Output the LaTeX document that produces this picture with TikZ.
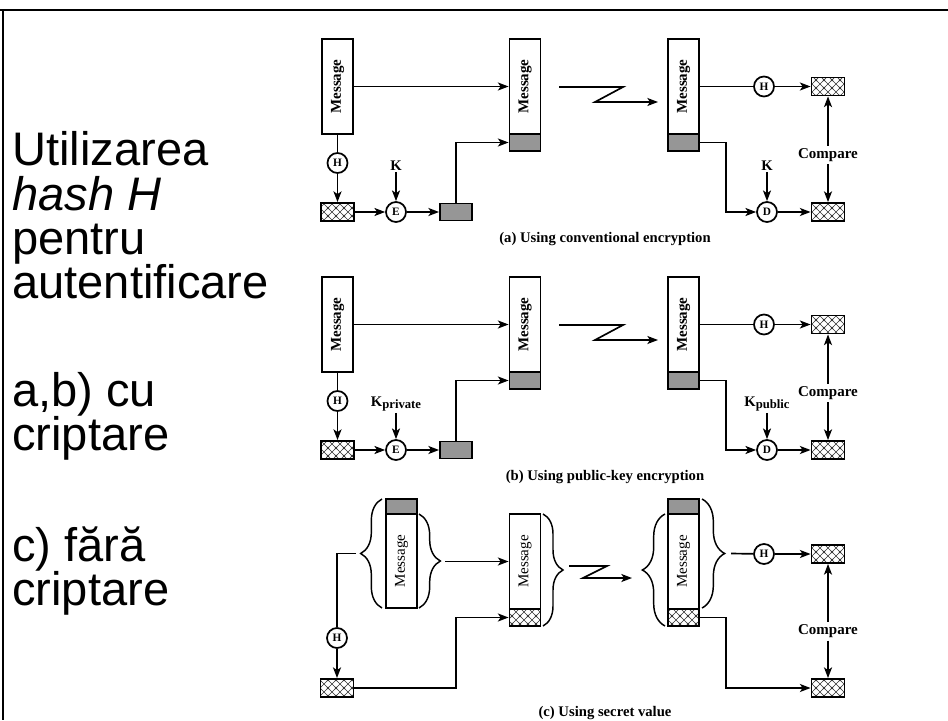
\documentclass[tikz,border=0pt]{standalone}
\usepackage{fontspec}
\usepackage{graphicx}
\setmainfont{Liberation Serif}
\newfontfamily\slidefont{Liberation Sans}
\usetikzlibrary{arrows.meta,patterns,decorations.pathreplacing}

\pgfdeclarepatternformonly{xhatch}{\pgfqpoint{-1pt}{-1pt}}{\pgfqpoint{7pt}{7pt}}{\pgfqpoint{6pt}{6pt}}{%
  \pgfsetlinewidth{0.5pt}%
  \pgfpathmoveto{\pgfqpoint{-1pt}{-1pt}}\pgfpathlineto{\pgfqpoint{7pt}{7pt}}%
  \pgfpathmoveto{\pgfqpoint{-1pt}{7pt}}\pgfpathlineto{\pgfqpoint{7pt}{-1pt}}%
  \pgfusepath{stroke}}

\definecolor{sgray}{RGB}{150,150,150}

\tikzset{
 msgbox/.style={draw, line width=1.4pt, fill=white, inner sep=0pt, minimum width=23.25pt, minimum height=71.25pt, font=\bfseries\fontsize{11.25}{12}\selectfont},
 msgplain/.style={msgbox, font=\fontsize{11.25}{12}\selectfont},
 siggray/.style={draw, line width=1.4pt, fill=sgray, inner sep=0pt, minimum width=23.25pt, minimum height=12.75pt},
 sighatch/.style={draw, line width=1.4pt, pattern=xhatch, pattern color=black!80, inner sep=0pt, minimum width=23.25pt, minimum height=12.75pt},
 smallhatch/.style={sighatch, minimum width=24.75pt, minimum height=13.5pt},
 smallgray/.style={siggray, minimum width=24pt, minimum height=12.75pt},
 opcirc/.style={circle, draw, line width=1.3pt, fill=white, inner sep=0pt, minimum size=15pt, font=\bfseries\fontsize{8.5}{8.5}\selectfont},
 klbl/.style={inner sep=1pt, font=\bfseries\fontsize{11}{11}\selectfont},
 cmp/.style={inner sep=2pt, font=\bfseries\fontsize{11.25}{12}\selectfont},
 capt/.style={inner sep=0pt, font=\bfseries\fontsize{11}{12}\selectfont},
 lnk/.style={line width=1.25pt},
 arr/.style={lnk, -{Stealth[length=8pt,width=6pt,inset=2pt]}},
 brc/.style={line width=1.1pt, decorate, decoration={brace, amplitude=#1}},
 slide/.style={anchor=base west, inner sep=0pt, font=\slidefont\fontsize{35.3}{36}\selectfont},
}

\newcommand\panelAB[4]{%
 \node[msgbox] (#1sm) at (337.5,86.5) {\rotatebox{90}{Message}};
 \node[opcirc] (#1h) at (337.5,163) {H};
 \node[smallhatch] (#1hb) at (337.5,212) {};
 \node[opcirc] (#1e) at (396,212) {E};
 \node[klbl] (#1k) at (396,166) {#2};
 \node[smallgray] (#1gb) at (456,212) {};
 \node[msgbox] (#1rm) at (525,86.5) {\rotatebox{90}{Message}};
 \node[siggray] (#1rg) at (525,142.5) {};
 \node[msgbox] (#1rm2) at (683.5,86.5) {\rotatebox{90}{Message}};
 \node[siggray] (#1rg2) at (683.5,142.5) {};
 \node[opcirc] (#1h2) at (764,86.5) {H};
 \node[smallhatch] (#1hb2) at (828,86.5) {};
 \node[opcirc] (#1d) at (767,212) {D};
 \node[klbl] (#1k2) at (767,166) {#3};
 \node[smallhatch] (#1hb3) at (828,212) {};
 \node[cmp] (#1cmp) at (828,155) {Compare};
 \node[capt] (#1cap) at (605,239) {#4};
 \coordinate (#1z1) at (559,87);
 \coordinate (#1z2) at (623,87);
 \coordinate (#1z3) at (595,102);
 \coordinate (#1z4) at (658,102);
 \coordinate (#1bend) at (726,212);
 \draw[lnk] (#1sm) -- (#1h);
 \draw[arr] (#1h) -- (#1hb);
 \draw[arr] (#1hb) -- (#1e);
 \draw[arr] (#1k) -- (#1e);
 \draw[arr] (#1e) -- (#1gb);
 \draw[arr] (#1sm.east) -- (#1rm.west);
 \draw[arr] (#1gb.north) |- (#1rg.west);
 \draw[arr] (#1z1) -- (#1z2) -- (#1z3) -- (#1z4);
 \draw[lnk] (#1rm2.east) -- (#1h2);
 \draw[arr] (#1h2) -- (#1hb2);
 \draw[arr] (#1rg2.east) -| (#1bend) -- (#1d);
 \draw[arr] (#1k2) -- (#1d);
 \draw[arr] (#1d) -- (#1hb3);
 \draw[arr] (#1cmp) -- (#1hb2);
 \draw[arr] (#1cmp) -- (#1hb3);
}

\begin{document}
\begin{tikzpicture}[x=0.75pt,y=-0.75pt]
\useasboundingbox (0,0) rectangle (948,720);
\fill[white] (0,0) rectangle (948,720);

% frame
\coordinate (f1) at (0,10);
\coordinate (f2) at (948,10);
\coordinate (f3) at (3,10);
\coordinate (f4) at (3,720);
\draw[line width=1.5pt] (f1) -- (f2);
\draw[line width=1.5pt] (f3) -- (f4);

% left text
\node[slide] (t1) at (12,166) {Utilizarea};
\node[slide] (t2) at (12,210) {\itshape hash H};
\node[slide] (t3) at (12,254) {pentru};
\node[slide] (t4) at (12,298) {autentificare};
\node[slide] (t5) at (12,406) {a,b) cu};
\node[slide] (t6) at (12,450) {criptare};
\node[slide] (t7) at (12,561) {c) fără};
\node[slide] (t8) at (12,605) {criptare};

% panel (a)
\begin{scope}
\panelAB{a}{K}{K}{(a) Using conventional encryption}
\end{scope}
% panel (b)
\begin{scope}[shift={(0,238)}]
\panelAB{b}{K\raisebox{-0.35ex}{\fontsize{9.5}{9.5}\selectfont private}}{K\raisebox{-0.35ex}{\fontsize{9.5}{9.5}\selectfont public}}{(b) Using public-key encryption}
\end{scope}

% panel (c)
\node[siggray, minimum height=11.25pt] (csg) at (401.5,506.5) {};
\node[msgplain, minimum height=70.5pt] (csm) at (401.5,561) {\rotatebox{90}{Message}};
\node[msgplain] (crm) at (525,561.5) {\rotatebox{90}{Message}};
\node[sighatch] (crh) at (525,617.5) {};
\node[siggray, minimum height=11.25pt] (crg2) at (683.5,506.5) {};
\node[msgplain] (crm2) at (683.5,561.5) {\rotatebox{90}{Message}};
\node[sighatch] (crh2) at (683.5,617.5) {};
\node[opcirc] (ch) at (337,638) {H};
\node[smallhatch] (chb) at (337,688) {};
\node[opcirc] (ch2) at (764,554) {H};
\node[smallhatch] (chb2) at (828,554) {};
\node[smallhatch] (chb3) at (828,688) {};
\node[cmp] (ccmp) at (828,631) {Compare};
\node[capt] (ccap) at (605,713) {(c) Using secret value};

\coordinate (cb1s) at (382,608);
\coordinate (cb1e) at (382,499);
\coordinate (cb2s) at (419,514);
\coordinate (cb2e) at (419,608);
\coordinate (cb3s) at (543,514);
\coordinate (cb3e) at (543,626);
\coordinate (cb4s) at (665,626);
\coordinate (cb4e) at (665,514);
\coordinate (cb5s) at (702,499);
\coordinate (cb5e) at (702,608);
\draw[brc=16pt] (cb1s) -- (cb1e);
\draw[brc=16pt] (cb2s) -- (cb2e);
\draw[brc=15pt] (cb3s) -- (cb3e);
\draw[brc=17pt] (cb4s) -- (cb4e);
\draw[brc=17pt] (cb5s) -- (cb5e);

\coordinate (ctip1) at (356,553.5);
\coordinate (ctip2) at (445,561.5);
\coordinate (ctip3) at (731,553.5);
\coordinate (cbend1) at (456,688);
\coordinate (cbend2) at (726,650);
\coordinate (cz1) at (569,566);
\coordinate (cz2) at (607,566);
\coordinate (cz3) at (583,578);
\coordinate (cz4) at (632,578);

\draw[lnk] (ctip1) -| (ch.north);
\draw[arr] (ch) -- (chb);
\draw[arr] (ctip2) -- (crm.west);
\draw[arr] (chb.east) -- (cbend1) |- (crh.west);
\draw[arr] (cz1) -- (cz2) -- (cz3) -- (cz4);
\draw[lnk] (ctip3) -- (ch2);
\draw[arr] (ch2) -- (chb2);
\draw[arr] (crh2.east) -| (cbend2) |- (chb3.west);
\draw[arr] (ccmp) -- (chb2);
\draw[arr] (ccmp) -- (chb3);
\end{tikzpicture}
\end{document}
